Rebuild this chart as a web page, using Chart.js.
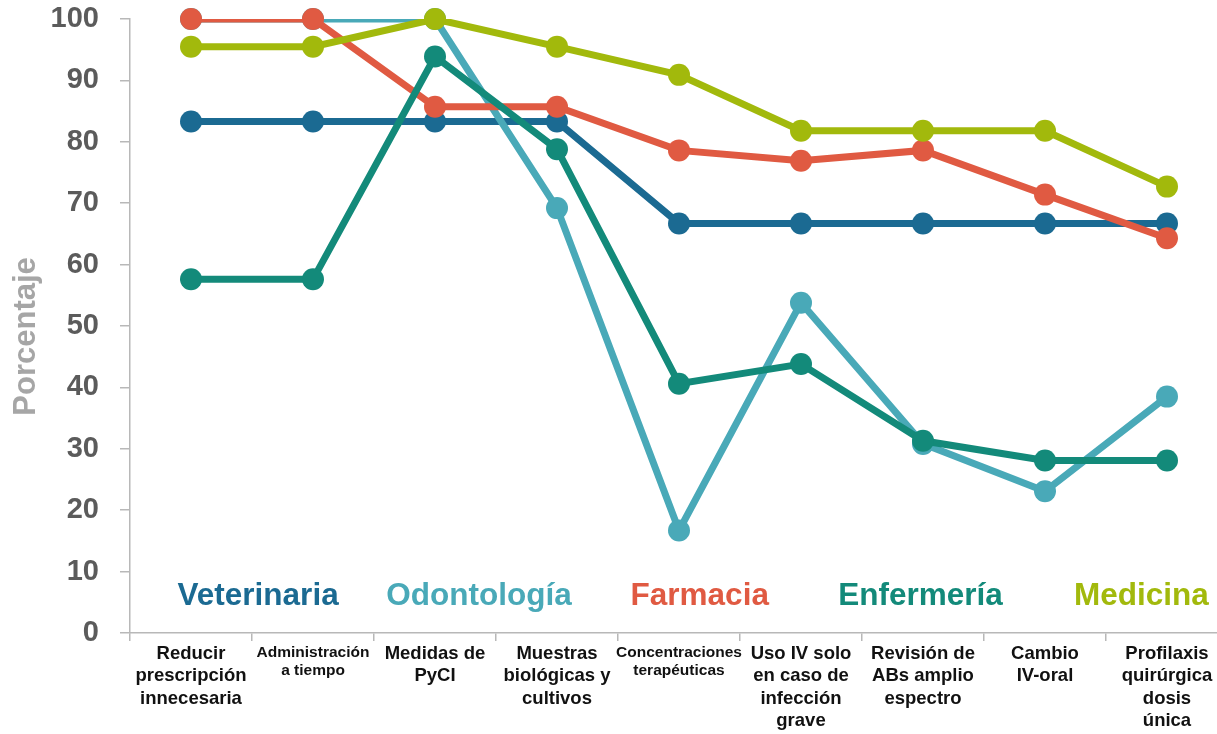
<!DOCTYPE html>
<html lang="es">
<head>
<meta charset="utf-8">
<title>Porcentaje por profesión</title>
<script src="https://cdn.jsdelivr.net/npm/chart.js@4.4.1/dist/chart.umd.min.js"></script>
<style>
  html, body { margin: 0; padding: 0; background: #ffffff; overflow: hidden; }
  #wrap { width: 1228px; height: 734px; overflow: hidden; }
  #chart { display: block; }
</style>
</head>
<body>
<div id="wrap"><canvas id="chart" width="1228" height="734"></canvas></div>
<script>
// Categories (multi-line labels on the x axis)
const categories = [
  ["Reducir", "prescripción", "innecesaria"],
  ["Administración", "a tiempo"],
  ["Medidas de", "PyCI"],
  ["Muestras", "biológicas y", "cultivos"],
  ["Concentraciones", "terapéuticas"],
  ["Uso IV solo", "en caso de", "infección", "grave"],
  ["Revisión de", "ABs amplio", "espectro"],
  ["Cambio", "IV-oral"],
  ["Profilaxis", "quirúrgica", "dosis", "única"]
];

// Series values (percent)
const veterinaria = [83.3, 83.3, 83.3, 83.3, 66.7, 66.7, 66.7, 66.7, 66.7];
const odontologia = [100, 100, 100, 69.2, 16.7, 53.8, 30.8, 23.1, 38.5];
const farmacia    = [100, 100, 85.7, 85.7, 78.6, 76.9, 78.6, 71.4, 64.3];
const enfermeria  = [57.6, 57.6, 93.9, 78.8, 40.6, 43.8, 31.3, 28.1, 28.1];
const medicina    = [95.5, 95.5, 100, 95.5, 90.9, 81.8, 81.8, 81.8, 72.7];

const seriesNames = ["Veterinaria", "Odontología", "Farmacia", "Enfermería", "Medicina"];
const seriesData  = [veterinaria, odontologia, farmacia, enfermeria, medicina];

// Y axis range
const yMin = 0, yMax = 100, yStep = 10;
const yTitle = "Porcentaje";

// Styles
const seriesColors = ["#1b6a92", "#49a9b8", "#e05a42", "#138a7a", "#a2b90c"];
const FONT = "'Liberation Sans', Arial, Helvetica, sans-serif";

// Each series: a line (clipped to the plot area) and its markers (not clipped).
const datasets = [];
seriesNames.forEach((name, i) => {
  datasets.push({
    label: name,
    data: seriesData[i],
    borderColor: seriesColors[i],
    backgroundColor: seriesColors[i],
    borderWidth: 7,
    pointRadius: 0,
    pointHoverRadius: 0,
    tension: 0,
    clip: 0,
    order: 20 - 2 * i
  });
  datasets.push({
    label: name + "_pts",
    data: seriesData[i],
    showLine: false,
    borderColor: seriesColors[i],
    backgroundColor: seriesColors[i],
    borderWidth: 0,
    pointRadius: 11,
    pointHoverRadius: 11,
    clip: false,
    order: 19 - 2 * i
  });
});

// Series names drawn as coloured text inside the plot, near the bottom
const seriesNamePlugin = {
  id: 'seriesNames',
  afterDatasetsDraw(chart) {
    const { ctx, scales: { x, y } } = chart;
    ctx.save();
    ctx.font = "bold 31.5px " + FONT;
    ctx.textAlign = 'center';
    ctx.textBaseline = 'middle';
    const yPix = y.getPixelForValue(6);
    seriesNames.forEach((name, i) => {
      ctx.fillStyle = seriesColors[i];
      ctx.fillText(name, x.getPixelForValue(0.55 + i * 1.81), yPix);
    });
    ctx.restore();
  }
};

// Rotated y-axis title, sitting a little below the middle of the axis
const yTitlePlugin = {
  id: 'yTitle',
  afterDraw(chart) {
    const { ctx, scales: { y } } = chart;
    ctx.save();
    ctx.translate(26, y.getPixelForValue(48.3));
    ctx.rotate(-Math.PI / 2);
    ctx.font = "bold 31px " + FONT;
    ctx.fillStyle = '#a6a6a6';
    ctx.textAlign = 'center';
    ctx.textBaseline = 'middle';
    ctx.fillText(yTitle, 0, 0);
    ctx.restore();
  }
};

const longestLine = (lbl) => Math.max(...lbl.map(s => s.length));

new Chart(document.getElementById('chart'), {
  type: 'line',
  data: { labels: categories, datasets },
  plugins: [seriesNamePlugin, yTitlePlugin],
  options: {
    responsive: false,
    animation: false,
    layout: { autoPadding: false, padding: { top: 19, right: 0, bottom: 0, left: 0 } },
    plugins: {
      legend: { display: false },
      tooltip: { enabled: false }
    },
    scales: {
      x: {
        type: 'category',
        offset: true,
        grid: {
          offset: true,
          drawOnChartArea: false,
          drawTicks: true,
          tickLength: 8,
          color: '#b8b8b8',
          lineWidth: 1.5
        },
        border: { display: true, color: '#b8b8b8', width: 1.5 },
        ticks: {
          autoSkip: false,
          maxRotation: 0,
          minRotation: 0,
          padding: 2,
          color: '#111111',
          font: (ctx) => ({
            family: FONT,
            weight: 'bold',
            size: longestLine(categories[ctx.index] || ['']) >= 14 ? 15.5 : 18.5,
            lineHeight: 1.2
          })
        },
        afterFit: (scale) => {
          scale.height = 101;
          scale.paddingLeft = 0;
          scale.paddingRight = 0;
        }
      },
      y: {
        min: yMin,
        max: yMax,
        grid: {
          drawOnChartArea: false,
          drawTicks: true,
          tickLength: 10,
          color: '#b8b8b8',
          lineWidth: 1.5
        },
        border: { display: true, color: '#b8b8b8', width: 1.5 },
        ticks: {
          stepSize: yStep,
          padding: 21,
          color: '#5b5b5b',
          font: { family: FONT, weight: 'bold', size: 29 }
        },
        afterFit: (scale) => {
          scale.width = 130;
          scale.paddingTop = 0;
          scale.paddingBottom = 0;
        }
      }
    }
  }
});
</script>
</body>
</html>
